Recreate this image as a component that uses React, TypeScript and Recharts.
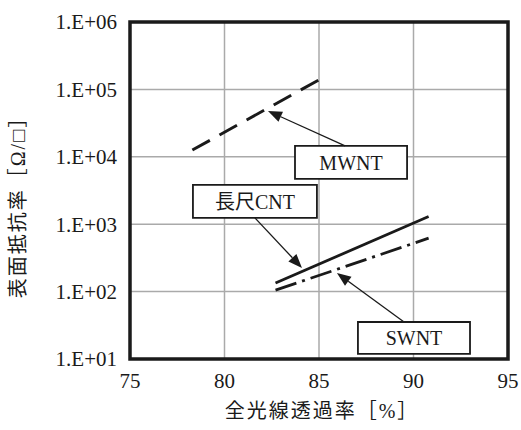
import React from 'react';
import { ComposedChart, Line, XAxis, YAxis, CartesianGrid, ReferenceArea, ReferenceLine } from 'recharts';

const xTicks = [75, 80, 85, 90, 95];
const yTicks = [10, 100, 1000, 10000, 100000, 1000000];

// each series is a straight line on the log plot, so only its two ends are kept
const mwnt = [
  { x: 78.3, y: 12600 },
  { x: 85.4, y: 160000 },
];
const longCnt = [
  { x: 82.7, y: 134 },
  { x: 90.8, y: 1300 },
];
const swnt = [
  { x: 82.7, y: 105 },
  { x: 90.8, y: 620 },
];

// callout boxes and their arrows, in data units
const callouts = [
  { label: 'MWNT', x1: 83.73, x2: 89.66, y1: 4700, y2: 14500, from: { x: 86.38, y: 14500 }, to: { x: 82.3, y: 47800 } },
  { label: '長尺CNT', x1: 78.33, x2: 84.89, y1: 1240, y2: 3820, from: { x: 81.61, y: 1240 }, to: { x: 84.1, y: 224 } },
  { label: 'SWNT', x1: 87.06, x2: 92.99, y1: 11.9, y2: 35.4, from: { x: 89.5, y: 35.4 }, to: { x: 85.95, y: 189 } },
];

const FONT = "'Liberation Serif', 'Noto Sans CJK JP', serif";
const INK = '#1a1a1a';

const yFmt = (v: number) => `1.E+${String(Math.round(Math.log10(v))).padStart(2, '0')}`;

const Arrow = (props: any) => {
  const { x1, y1, x2, y2 } = props;
  const a = Math.atan2(y2 - y1, x2 - x1);
  const len = 14;
  const w = 5.5;
  const bx = x2 - len * Math.cos(a);
  const by = y2 - len * Math.sin(a);
  const px = -Math.sin(a) * w;
  const py = Math.cos(a) * w;
  return (
    <g>
      <line x1={x1} y1={y1} x2={bx} y2={by} stroke={INK} strokeWidth={1.3} />
      <polygon points={`${x2},${y2} ${bx + px},${by + py} ${bx - px},${by - py}`} fill={INK} />
    </g>
  );
};

const YTitle = () => (
  <text
    transform="translate(18,202) rotate(-90)"
    textAnchor="middle"
    dominantBaseline="central"
    fill={INK}
    fontSize={20}
    letterSpacing={2}
    fontFamily={FONT}
  >
    表面抵抗率［Ω/□］
  </text>
);

const XTitle = () => (
  <text x={322} y={411} textAnchor="middle" dominantBaseline="central" fill={INK} fontSize={20} letterSpacing={2} fontFamily={FONT}>
    全光線透過率［%］
  </text>
);

export default function App() {
  return (
    <div style={{ position: 'absolute', left: 0, top: 0, width: 521, height: 430, background: '#fff' }}>
      <ComposedChart width={521} height={430} margin={{ top: 22, right: 13, bottom: 0, left: 0 }}>
        <CartesianGrid stroke="#aaaaaa" strokeWidth={1.5} />
        <XAxis
          type="number"
          dataKey="x"
          domain={[75, 95]}
          ticks={xTicks}
          height={71}
          axisLine={false}
          tickLine={false}
          tickSize={0}
          tickMargin={14}
          tick={{ fill: INK, fontSize: 21, fontFamily: FONT }}
          label={{ content: () => <XTitle /> }}
        />
        <YAxis
          type="number"
          scale="log"
          domain={[10, 1000000]}
          ticks={yTicks}
          tickFormatter={yFmt}
          width={130}
          axisLine={false}
          tickLine={false}
          tickSize={0}
          tickMargin={13}
          allowDataOverflow
          tick={{ fill: INK, fontSize: 21, fontFamily: FONT }}
          label={{ content: () => <YTitle /> }}
        />
        <Line data={mwnt} dataKey="y" stroke={INK} strokeWidth={3} strokeDasharray="20 11" dot={false} isAnimationActive={false} />
        <Line data={longCnt} dataKey="y" stroke={INK} strokeWidth={2.8} dot={false} isAnimationActive={false} />
        <Line data={swnt} dataKey="y" stroke={INK} strokeWidth={2.8} strokeDasharray="22 6 3 6" dot={false} isAnimationActive={false} />
        {callouts.map((c) => (
          <ReferenceLine key={c.label + 'a'} segment={[c.from, c.to]} shape={Arrow} />
        ))}
        {callouts.map((c) => (
          <ReferenceArea
            key={c.label}
            x1={c.x1}
            x2={c.x2}
            y1={c.y1}
            y2={c.y2}
            fill="#fff"
            fillOpacity={1}
            stroke={INK}
            strokeWidth={1.8}
            label={{ value: c.label, position: 'center', fill: INK, fontSize: 20, fontFamily: FONT }}
          />
        ))}
        <ReferenceArea x1={75} x2={95} y1={10} y2={1000000} fill="none" stroke={INK} strokeWidth={3.5} />
      </ComposedChart>
    </div>
  );
}
